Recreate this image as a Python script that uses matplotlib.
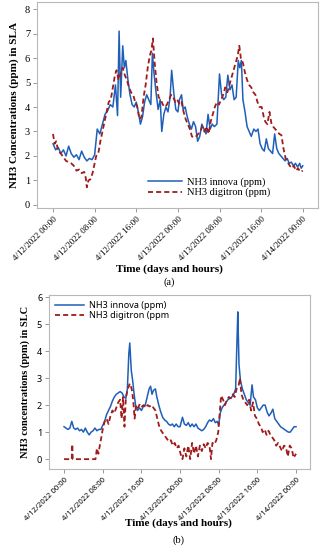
import matplotlib
matplotlib.use("Agg")
import matplotlib.pyplot as plt

# time axis ticks (hours since 4/12/2022 00:00)
tick_hours = [0, 8, 16, 24, 32, 40, 48]
tick_labels = ["4/12/2022 00:00", "4/12/2022 08:00", "4/12/2022 16:00",
               "4/13/2022 00:00", "4/13/2022 08:00", "4/13/2022 16:00",
               "4/14/2022 00:00"]

# (a) SLA - innova
sla_inn_h = [0, 0.5, 1.0, 1.5, 2.0, 2.5, 3.0, 3.5, 4.0, 4.5,
             5.0, 5.5, 6.0, 6.5, 7.0, 7.5, 8.0, 8.5, 9.0, 9.5,
             10.0, 10.5, 11.0, 11.5, 12.0, 12.4, 12.7, 13.0, 13.4, 13.7,
             14.0, 14.4, 14.8, 15.2, 15.6, 16.0, 16.4, 16.8, 17.2, 17.6,
             18.0, 18.4, 18.8, 19.1, 19.4, 19.8, 20.2, 20.6, 20.9, 21.3,
             21.7, 22.1, 22.5, 22.8, 23.2, 23.6, 24.0, 24.3, 24.7, 25.0,
             25.4, 25.8, 26.2, 26.6, 27.0, 27.4, 27.8, 28.2, 28.6, 29.0,
             29.4, 29.8, 30.2, 30.6, 31.0, 31.5, 32.0, 32.4, 32.8, 33.2,
             33.6, 34.0, 34.4, 34.8, 35.2, 35.6, 35.9, 36.2, 36.5, 36.9,
             37.3, 37.7, 38.1, 38.6, 39.0, 39.4, 39.8, 40.2, 40.6, 41.0,
             41.4, 41.8, 42.2, 42.6, 43.0, 43.4, 43.8, 44.2, 44.6, 45.0,
             45.4, 45.8, 46.2, 46.6, 47.0, 47.4, 47.7, 48.0]
sla_inn = [2.5, 2.25, 2.35, 2.1, 2.25, 2.0, 2.4, 2.1, 1.95, 2.05,
           1.85, 2.2, 1.95, 1.8, 1.9, 1.85, 2.05, 3.1, 2.9, 3.3,
           3.7, 3.85, 4.1, 4.0, 4.9, 3.65, 7.1, 4.4, 6.5, 5.6,
           5.9, 5.1, 4.5, 4.1, 4.0, 4.2, 3.8, 3.3, 3.6, 4.2,
           4.5, 4.3, 4.1, 6.2, 5.4, 4.6, 3.9, 4.3, 3.0, 3.7,
           4.0, 3.8, 4.4, 5.5, 4.6, 3.9, 3.8, 4.3, 4.5, 3.9,
           4.0, 3.6, 3.3, 3.1, 3.4, 3.2, 2.6, 2.8, 3.3, 3.1,
           2.9, 3.7, 3.1, 3.3, 3.2, 3.3, 5.35, 4.5, 4.3, 4.4,
           5.3, 4.7, 4.9, 4.3, 4.4, 5.9, 5.6, 5.9, 4.3, 3.8,
           3.2, 3.0, 2.8, 3.1, 3.0, 3.1, 2.5, 2.3, 2.2, 2.7,
           2.3, 2.2, 2.1, 2.9, 2.3, 2.1, 2.0, 1.9, 1.8, 1.9,
           1.7, 1.75, 1.6, 1.7, 1.55, 1.7, 1.5, 1.6]

# (a) SLA - digitron
sla_dig_h = [0, 0.3, 0.6, 1.0, 1.5, 2.0, 2.5, 3.0, 3.5, 4.0,
             4.5, 5.0, 5.5, 6.0, 6.3, 6.5, 6.8, 7.2, 7.6, 8.0,
             8.3, 8.7, 9.1, 9.5, 9.9, 10.3, 10.7, 11.1, 11.5, 11.9,
             12.2, 12.6, 13.0, 13.4, 13.8, 14.2, 14.6, 15.0, 15.4, 15.8,
             16.2, 16.6, 17.0, 17.4, 17.8, 18.2, 18.6, 18.9, 19.2, 19.5,
             19.9, 20.3, 20.7, 21.1, 21.5, 21.9, 22.3, 22.7, 23.1, 23.5,
             23.9, 24.3, 24.7, 25.1, 25.5, 25.9, 26.3, 26.7, 27.1, 27.5,
             27.9, 28.3, 28.7, 29.1, 29.5, 29.9, 30.3, 30.7, 31.1, 31.5,
             31.9, 32.3, 32.7, 33.1, 33.5, 33.9, 34.3, 34.7, 35.1, 35.5,
             35.8, 36.1, 36.5, 36.9, 37.3, 37.7, 38.1, 38.5, 38.9, 39.3,
             39.7, 40.1, 40.5, 40.8, 41.2, 41.6, 42.0, 42.3, 42.7, 43.1,
             43.5, 43.9, 44.3, 44.7, 45.1, 45.5, 45.9, 46.3, 46.7, 47.1,
             47.5, 48.0]
sla_dig = [2.9, 2.5, 2.6, 2.2, 2.1, 1.95, 1.8, 1.75, 1.7, 1.6,
           1.4, 1.45, 1.3, 1.35, 1.1, 0.72, 1.0, 1.05, 1.3, 1.7,
           2.0, 2.1, 2.6, 3.0, 3.4, 3.8, 4.2, 4.3, 4.8, 5.3,
           5.5, 5.1, 5.4, 5.6, 5.3, 5.1, 4.8, 4.6, 4.5, 4.2,
           4.0, 3.5, 3.6, 4.4, 4.9, 5.6, 6.1, 6.3, 6.8, 5.9,
           5.0, 4.4, 4.3, 4.1, 4.0, 4.1, 4.3, 4.5, 4.4, 4.2,
           4.3, 4.1, 4.2, 3.8, 3.5, 3.3, 3.1, 2.8, 2.75, 2.8,
           2.9, 3.0, 3.2, 3.0, 3.2, 2.9, 3.4, 3.7, 4.0, 4.2,
           4.1, 4.3, 4.5, 4.8, 4.6, 4.9, 5.2, 5.5, 5.8, 6.1,
           6.5, 6.0, 5.8, 5.4, 5.1, 4.9, 4.8, 4.6, 4.5, 4.2,
           4.0, 4.0, 3.6, 3.4, 3.3, 3.8, 3.3, 3.2, 3.1, 3.0,
           2.9, 2.85, 2.3, 1.9, 1.75, 1.6, 1.5, 1.6, 1.4, 1.5,
           1.35, 1.4]

# (b) SLC - innova
slc_inn_h = [0, 0.4, 0.8, 1.2, 1.6, 2.0, 2.4, 2.8, 3.2, 3.6,
             4.0, 4.4, 4.8, 5.2, 5.6, 6.0, 6.4, 6.8, 7.2, 7.6,
             8.0, 8.4, 8.8, 9.2, 9.6, 10.0, 10.4, 10.8, 11.2, 11.6,
             12.0, 12.4, 12.8, 13.1, 13.4, 13.6, 13.9, 14.2, 14.5, 14.8,
             15.2, 15.6, 16.0, 16.4, 16.8, 17.2, 17.6, 17.9, 18.2, 18.5,
             18.9, 19.2, 19.6, 20.0, 20.4, 20.8, 21.2, 21.6, 22.0, 22.4,
             22.8, 23.2, 23.6, 24.0, 24.5, 24.9, 25.3, 25.7, 26.1, 26.5,
             26.9, 27.3, 27.7, 28.1, 28.5, 28.9, 29.3, 29.7, 30.1, 30.5,
             30.9, 31.3, 31.7, 32.0, 32.3, 32.7, 33.1, 33.5, 33.9, 34.3,
             34.7, 35.1, 35.5, 35.8, 35.95, 36.2, 36.5, 36.9, 37.3, 37.7,
             38.1, 38.5, 38.9, 39.2, 39.6, 40.0, 40.4, 40.8, 41.2, 41.6,
             42.0, 42.4, 42.8, 43.2, 43.6, 44.0, 44.4, 44.8, 45.2, 45.6,
             46.0, 46.4, 46.8, 47.2, 47.6, 48.0]
slc_inn = [1.2, 1.15, 1.1, 1.15, 1.4, 1.15, 1.1, 1.15, 1.05, 1.1,
           1.0, 1.15, 1.0, 0.9, 1.0, 1.05, 1.15, 1.05, 1.1, 1.1,
           1.25, 1.4, 1.65, 1.8, 1.95, 2.15, 2.3, 2.4, 2.45, 2.5,
           2.45, 2.3, 2.25, 2.6, 3.9, 4.3, 3.3, 2.9, 2.4, 2.0,
           1.8, 1.9, 1.8, 1.95, 2.0, 2.3, 2.6, 2.7, 2.4, 2.55,
           2.6, 2.3, 2.0, 1.75, 1.55, 1.45, 1.4, 1.3, 1.25, 1.3,
           1.2, 1.3, 1.2, 1.2, 1.55, 1.3, 1.25, 1.35, 1.2, 1.3,
           1.2, 1.3, 1.15, 1.1, 1.05, 1.1, 1.2, 1.35, 1.45, 1.4,
           1.5, 1.35, 1.4, 1.25, 1.7, 1.9, 2.0, 2.1, 2.2, 2.25,
           2.3, 2.4, 2.6, 4.5, 5.45, 3.5, 2.9, 2.6, 2.4, 2.2,
           2.1, 2.0, 2.75, 2.3, 2.2, 1.9, 1.8, 1.9, 2.0, 2.0,
           1.75, 1.6, 1.7, 1.85, 1.5, 1.4, 1.3, 1.2, 1.15, 1.1,
           1.05, 1.0, 1.0, 1.1, 1.2, 1.2]

# (b) SLC - digitron
slc_dig_h = [0, 1.6, 1.7, 1.8, 6.5, 6.8, 7.1, 7.4, 7.7, 8.0,
             8.4, 8.8, 9.2, 9.6, 10.0, 10.4, 10.8, 11.2, 11.6, 11.9,
             12.2, 12.5, 12.8, 13.2, 13.6, 14.0, 14.3, 14.6, 14.9, 15.3,
             15.7, 16.1, 16.5, 16.9, 17.3, 17.7, 18.1, 18.5, 18.9, 19.3,
             19.7, 20.1, 20.5, 20.9, 21.3, 21.7, 22.1, 22.5, 22.9, 23.3,
             23.7, 24.1, 24.5, 24.9, 25.3, 25.7, 26.1, 26.5, 26.9, 27.3,
             27.7, 28.1, 28.5, 28.9, 29.3, 29.7, 30.1, 30.4, 30.7, 31.1,
             31.5, 31.9, 32.2, 32.5, 32.9, 33.3, 33.7, 34.1, 34.5, 34.9,
             35.3, 35.7, 36.1, 36.4, 36.7, 37.1, 37.5, 37.9, 38.3, 38.7,
             39.1, 39.5, 39.9, 40.3, 40.7, 41.1, 41.5, 41.9, 42.3, 42.7,
             43.1, 43.5, 43.9, 44.3, 44.7, 45.1, 45.5, 45.9, 46.3, 46.7,
             47.1, 47.5, 48.0]
slc_dig = [0, 0, 0.55, 0, 0, 0.4, 0.2, 0.5, 0.8, 1.1,
           1.4, 1.5, 1.3, 1.6, 1.8, 1.7, 1.9, 2.1, 2.2, 1.5,
           2.3, 1.2, 2.3, 2.6, 2.8, 2.6, 2.2, 1.5, 2.0, 1.9,
           2.05, 1.95, 2.0, 1.9, 2.0, 1.95, 2.0, 1.9, 1.8, 1.5,
           1.2, 1.05, 0.95, 0.85, 0.75, 0.65, 0.7, 0.5, 0.6, 0.4,
           0.5, 0.2, 0.0, 0.4, 0.1, 0.5, 0.0, 0.6, 0.2, 0.5,
           0.1, 0.5, 0.3, 0.55, 0.4, 0.6, 0.5, 0.0, 0.6, 0.55,
           0.7, 1.0, 1.7, 2.35, 2.2, 2.0, 2.2, 2.3, 2.25, 2.4,
           2.3, 2.6, 2.7, 3.0, 2.4, 2.2, 2.1, 2.0, 2.2, 1.8,
           2.1, 1.6, 1.5, 1.3, 1.2, 1.0, 1.1, 0.9, 1.05, 0.9,
           0.8, 0.7, 0.5, 0.6, 0.45, 0.3, 0.5, 0.45, 0.1, 0.5,
           0.4, 0.05, 0.2]

BLUE = "#1f5fb8"
RED = "#a01b1b"
GRID_GREY = "#b8b8b8"
SERIF = "Liberation Serif"
SANS = "Noto Sans"
DASH = (2.8, 1.7)

fig = plt.figure(figsize=(3.25, 5.5), dpi=100)

# ---- panel (a) ----
ax1 = fig.add_axes([0.114, 0.622, 0.864, 0.374])
ax1.plot(sla_inn_h, sla_inn, color=BLUE, lw=1.1, label="NH3 innova (ppm)")
ax1.plot(sla_dig_h, sla_dig, color=RED, lw=1.3, dashes=DASH, label="NH3 digitron (ppm)")
ax1.set_xlim(-3.07, 50.9)
ax1.set_ylim(-0.12, 8.28)
ax1.set_yticks(range(0, 9))
ax1.set_xticks(tick_hours)
ax1.set_xticklabels(tick_labels, rotation=45, ha="right", rotation_mode="anchor",
                    family=SERIF, fontsize=6.5)
for t in ax1.get_yticklabels():
    t.set_family(SERIF)
    t.set_fontsize(7.5)
ax1.tick_params(length=3, width=0.6, color="#888888", pad=2)
for s in ax1.spines.values():
    s.set_color(GRID_GREY)
    s.set_linewidth(0.8)
ax1.set_ylabel("NH3 Concentrations (ppm) in SLA", family=SERIF, fontweight="bold",
               fontsize=8, labelpad=4)
ax1.legend(loc="center left", bbox_to_anchor=(0.37, 0.1), frameon=False,
           prop={"family": SERIF, "size": 7.5}, handlelength=3.2,
           labelspacing=0.1, borderpad=0.2, handletextpad=0.5)
fig.text(0.52, 0.511, "Time (days and hours)", family=SERIF, fontweight="bold",
         fontsize=8, ha="center", va="center")
fig.text(0.52, 0.487, "(a)", family=SERIF, fontsize=7.5, ha="center", va="center")

# ---- panel (b) ----
ax2 = fig.add_axes([0.151, 0.147, 0.803, 0.3164])
ax2.plot(slc_inn_h, slc_inn, color=BLUE, lw=1.1, label="NH3 innova (ppm)")
ax2.plot(slc_dig_h, slc_dig, color=RED, lw=1.3, dashes=DASH, label="NH3 digitron (ppm")
ax2.set_xlim(-3.1, 50.9)
ax2.set_ylim(-0.37, 6.07)
ax2.set_yticks(range(0, 7))
ax2.set_xticks(tick_hours)
ax2.set_xticklabels(tick_labels, rotation=45, ha="right", rotation_mode="anchor",
                    family=SANS, fontsize=5.5)
for t in ax2.get_yticklabels():
    t.set_family(SANS)
    t.set_fontsize(6.5)
ax2.tick_params(length=3, width=0.6, color="#888888", pad=2)
for s in ax2.spines.values():
    s.set_color(GRID_GREY)
    s.set_linewidth(0.8)
ax2.set_ylabel("NH3 concentrations (ppm) in SLC", family=SERIF, fontweight="bold",
               fontsize=7.5, labelpad=5)
ax2.legend(loc="center left", bbox_to_anchor=(0.0, 0.91), frameon=False,
           prop={"family": SANS, "size": 6.5}, handlelength=3.2,
           labelspacing=0.15, borderpad=0.2, handletextpad=0.5)
fig.text(0.55, 0.049, "Time (days and hours)", family=SERIF, fontweight="bold",
         fontsize=8, ha="center", va="center")
fig.text(0.55, 0.018, "(b)", family=SERIF, fontsize=7.5, ha="center", va="center")

fig.savefig("out.png", dpi=100)
